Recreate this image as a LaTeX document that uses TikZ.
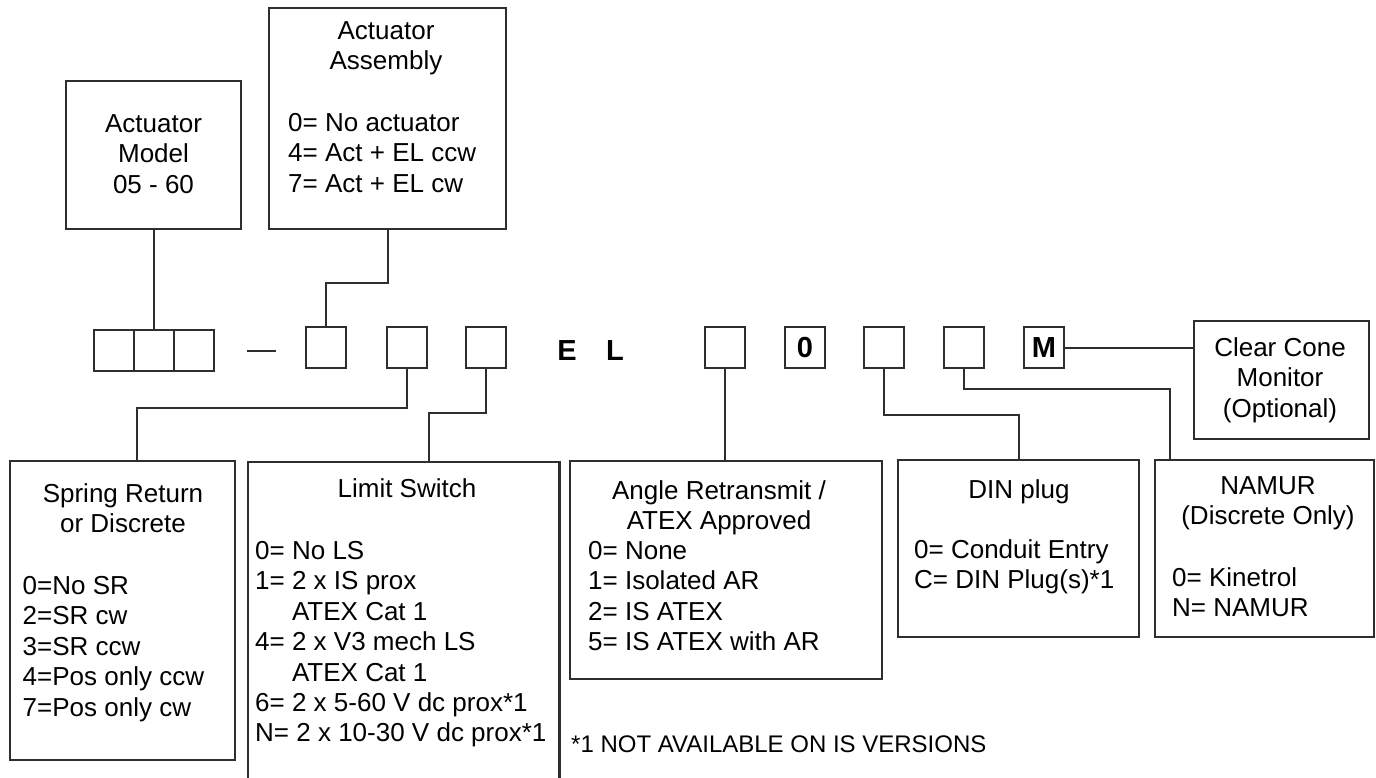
\documentclass[tikz,border=0pt]{standalone}
\usepackage{fontspec}
\setmainfont{Liberation Sans}
\newcommand\fs{\fontsize{26}{30.4}\selectfont}
\newcommand\fbig{\fontsize{29}{32}\selectfont\bfseries}
\newcommand\ffoot{\fontsize{24}{28}\selectfont}
\begin{document}
\begin{tikzpicture}[x=1pt,y=-1pt,
  box/.style={draw=black!82, line width=2.1pt, rectangle, inner sep=0pt},
  cell/.style={box, minimum width=40pt, minimum height=41pt, font=\fbig},
  txt/.style={inner sep=0pt, font=\fs},
  conn/.style={draw=black!82, line width=2pt}]
\useasboundingbox (0,0) rectangle (1376,778);
\clip (0,0) rectangle (1376,778);
\fill[white] (0,0) rectangle (1376,778);

% top boxes
\node[box, minimum width=175pt, minimum height=148pt] (model) at (153.5,155) {};
\node[box, minimum width=237pt, minimum height=221pt] (asm) at (387.5,118.5) {};
\node[txt, anchor=north, align=center] (tmodel) at (153.5,111) {\strut Actuator\\Model\\05 - 60};
\node[txt, anchor=north, align=center] (tasm) at (386,18) {\strut Actuator\\Assembly};
\node[txt, anchor=north west, align=left] (iasm) at (288,110) {\strut 0= No actuator\\4= Act + EL ccw\\7= Act + EL cw};

% code row
\node[cell, minimum height=40.5pt] (c1) at (114,350.5) {};
\node[cell, minimum height=40.5pt] (c2) at (154,350.5) {};
\node[cell, minimum height=40.5pt] (c3) at (194,350.5) {};
\draw[conn] (247,350.7) -- (276,350.7);
\node[cell] (b1) at (326,347.5) {};
\node[cell] (b2) at (407,347.5) {};
\node[cell] (b3) at (486,347.5) {};
\node[inner sep=0pt, font=\fbig, anchor=base] (E) at (567,360) {E};
\node[inner sep=0pt, font=\fbig, anchor=base] (L) at (615,360) {L};
\node[cell] (b4) at (725,347.5) {};
\node[cell] (b0) at (805,347.5) {0};
\node[cell] (b5) at (884,347.5) {};
\node[cell] (b6) at (964,347.5) {};
\node[cell] (bM) at (1044,347.5) {M};

% clear cone box
\node[box, minimum width=175pt, minimum height=118pt] (ccm) at (1281.5,380) {};
\node[txt, anchor=north, align=center] (tccm) at (1280,335) {\strut Clear Cone\\Monitor\\(Optional)};

% bottom boxes
\node[box, minimum width=225pt, minimum height=299pt] (sr) at (122.5,610.5) {};
\node[box, minimum width=311.5pt, minimum height=320pt] (ls) at (403.75,622) {};
\node[box, minimum width=312pt, minimum height=218pt] (ar) at (726,570) {};
\node[box, minimum width=241pt, minimum height=177pt] (din) at (1018.5,548.5) {};
\node[box, minimum width=219pt, minimum height=177pt] (namur) at (1264.5,548.5) {};

\node[txt, anchor=north, align=center] (tsr) at (123,481) {\strut Spring Return\\or Discrete};
\node[txt, anchor=north west, align=left] (isr) at (22.5,573) {\strut 0=No SR\\2=SR cw\\3=SR ccw\\4=Pos only ccw\\7=Pos only cw};

\node[txt, anchor=north, align=center] (tls) at (407,476) {\strut Limit Switch};
\node[txt, anchor=north west, align=left] (ils) at (255,538) {\strut 0= No LS\\1= 2 x IS prox\\\hphantom{1= }ATEX Cat 1\\4= 2 x V3 mech LS\\\hphantom{4= }ATEX Cat 1\\6= 2 x 5-60 V dc prox*1\\N= 2 x 10-30 V dc prox*1};

\node[txt, anchor=north, align=center] (tar) at (719,478) {\strut Angle Retransmit /\\ATEX Approved};
\node[txt, anchor=north west, align=left] (iar) at (588,538) {\strut 0= None\\1= Isolated AR\\2= IS ATEX\\5= IS ATEX with AR};

\node[txt, anchor=north, align=center] (tdin) at (1019,477) {\strut DIN plug};
\node[txt, anchor=north west, align=left] (idin) at (914,537) {\strut 0= Conduit Entry\\C= DIN Plug(s)*1};

\node[txt, anchor=north, align=center] (tnamur) at (1268,473) {\strut NAMUR\\(Discrete Only)};
\node[txt, anchor=north west, align=left] (inamur) at (1172,565) {\strut 0= Kinetrol\\N= NAMUR};

\node[inner sep=0pt, font=\ffoot, anchor=base west] (foot) at (571,752.6) {*1 NOT AVAILABLE ON IS VERSIONS};

% connectors
\draw[conn] (model.south) -- (model.south |- c2.north);
\draw[conn] (asm.south) -- ++(0,53) -| (b1.north);
\draw[conn] (b2.south) -- ++(0,39) -| ([xshift=14.5pt]sr.north);
\draw[conn] (b3.south) -- ++(0,44) -| ([xshift=25.25pt]ls.north);
\draw[conn] (b4.south) -- (b4.south |- ar.north);
\draw[conn] (b5.south) -- ++(0,46) -| (din.north);
\draw[conn] (b6.south) -- ++(0,20) -| ([xshift=-94.5pt]namur.north);
\draw[conn] (bM.east) -- (bM.east -| ccm.west);
\end{tikzpicture}
\end{document}
